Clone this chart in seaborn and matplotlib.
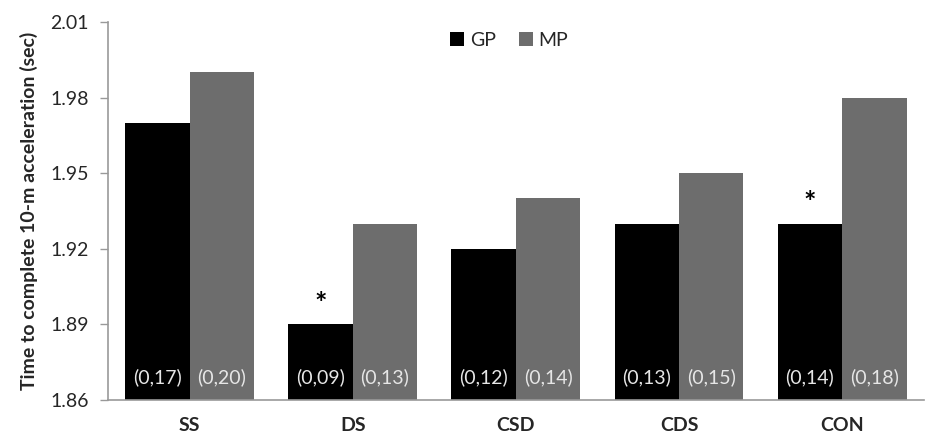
import matplotlib
matplotlib.use("Agg")
import matplotlib.pyplot as plt
import seaborn as sns
import pandas as pd

categories = ["SS", "DS", "CSD", "CDS", "CON"]
gp_values = [1.97, 1.89, 1.92, 1.93, 1.93]
mp_values = [1.99, 1.93, 1.94, 1.95, 1.98]
gp_labels = ["(0,17)", "(0,09)", "(0,12)", "(0,13)", "(0,14)"]
mp_labels = ["(0,20)", "(0,13)", "(0,14)", "(0,15)", "(0,18)"]
gp_star = [False, True, False, False, True]
y_ticks = [1.86, 1.89, 1.92, 1.95, 1.98, 2.01]

sns.set_style("white")
plt.rcParams["font.family"] = ["Lato", "DejaVu Sans"]

df = pd.DataFrame({
    "cat": categories * 2,
    "val": gp_values + mp_values,
    "group": ["GP"] * 5 + ["MP"] * 5,
})

fig = plt.figure(figsize=(9.28, 4.38), dpi=100)
ax = fig.add_axes([0.1164, 0.0868, 0.879, 0.863])
sns.barplot(data=df, x="cat", y="val", hue="group", palette=["#000000", "#6d6d6d"],
            width=0.79, saturation=1, ax=ax, errorbar=None, linewidth=0)

ax.set_ylim(1.86, 2.01)
ax.set_yticks(y_ticks)
ax.set_yticklabels([f"{t:.2f}" for t in y_ticks], fontsize=14)
ax.set_xlim(-0.5, 4.5)
ax.set_xlabel("")
ax.set_ylabel("Time to complete 10-m acceleration (sec)", fontsize=14, fontweight="bold",
              labelpad=9)
for lab in ax.get_xticklabels():
    lab.set_fontweight("bold")
    lab.set_fontsize(14)
ax.tick_params(axis="x", length=0, pad=12)
ax.tick_params(axis="y", length=6, width=1, color="#999999", direction="out", left=True, pad=8)

for s in ["top", "right"]:
    ax.spines[s].set_visible(False)
for s in ["left", "bottom"]:
    ax.spines[s].set_color("#999999")
    ax.spines[s].set_linewidth(1.2)

labels_all = [gp_labels, mp_labels]
for ci, cont in enumerate(ax.containers):
    for i, p in enumerate(cont.patches):
        xc = p.get_x() + p.get_width() / 2
        ax.text(xc, 1.8655, labels_all[ci][i], ha="center", va="bottom",
                color="#e6e6e6", fontsize=14)
        if ci == 0 and gp_star[i]:
            ax.text(xc, p.get_height() + 0.003, "*", ha="center", va="bottom",
                    color="black", fontsize=21, fontweight="bold")

leg = ax.legend(loc="upper center", bbox_to_anchor=(0.492, 1.02), ncol=2, frameon=False,
                fontsize=14, handlelength=0.7, handleheight=0.7, handletextpad=0.3,
                columnspacing=1.2)

fig.savefig("out.png", dpi=100)
